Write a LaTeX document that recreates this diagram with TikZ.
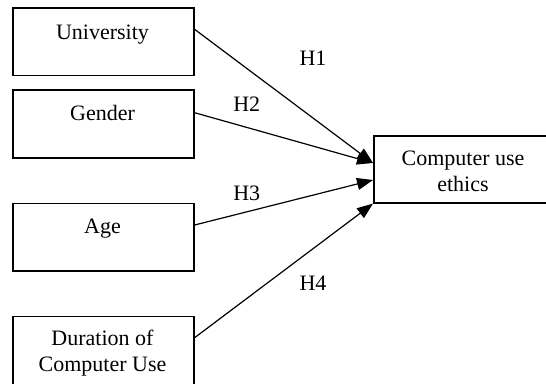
\documentclass[tikz,border=0pt]{standalone}
\usepackage{fontspec}
\setmainfont{Liberation Serif}
\usetikzlibrary{calc,arrows.meta}
\begin{document}
\begin{tikzpicture}[x=0.75pt,y=-0.75pt,
  box/.style={draw=black,line width=1.2pt,rectangle,inner sep=0pt,anchor=north west},
  txt/.style={anchor=base,inner sep=0pt,font=\fontsize{16.5}{19.5}\selectfont},
  arr/.style={line width=0.9pt,-{Triangle[length=12pt,width=9pt]}}]
\clip (0,0) rectangle (546,383);
\fill[white] (0,0) rectangle (546,383);
% boxes
\node[box,minimum width=181*0.75pt,minimum height=67.4*0.75pt] (u) at (12,7.3) {};
\node[box,minimum width=181*0.75pt,minimum height=68*0.75pt] (g) at (12,89.3) {};
\node[box,minimum width=181*0.75pt,minimum height=67.3*0.75pt] (a) at (12,202.7) {};
\node[box,minimum width=181*0.75pt,minimum height=90*0.75pt] (d) at (12,315.7) {};
\node[box,minimum width=173*0.75pt,minimum height=67*0.75pt] (c) at (373,135) {};
% texts
\node[txt] (ut) at (102.5,39) {University};
\node[txt] (gt) at (102.5,120.7) {Gender};
\node[txt] (at) at (102.5,233) {Age};
\node[txt] (dt1) at (102.5,345.7) {Duration of};
\node[txt] (dt2) at (102.5,371) {Computer Use};
\node[txt] (ct1) at (463,165) {Computer use};
\node[txt] (ct2) at (463,191) {ethics};
% hypothesis labels
\node[txt] (h1) at (313,65.7) {H1};
\node[txt] (h2) at (246.7,111) {H2};
\node[txt] (h3) at (246.7,200) {H3};
\node[txt] (h4) at (313,290) {H4};
% connector ends
\coordinate (uo) at ($(u.north east)+(0,22)$);
\coordinate (go) at ($(g.north east)+(0,23.4)$);
\coordinate (ao) at ($(a.north east)+(0,22.3)$);
\coordinate (do) at ($(d.north east)+(0,22)$);
\coordinate (ci1) at ($(c.north west)+(0,28)$);
\coordinate (ci2) at ($(c.north west)+(0,45)$);
\draw[arr] (uo) -- (ci1);
\draw[arr] (go) -- (ci1);
\draw[arr] (ao) -- (ci2);
\draw[arr] (do) -- (c.south west);
\end{tikzpicture}
\end{document}
